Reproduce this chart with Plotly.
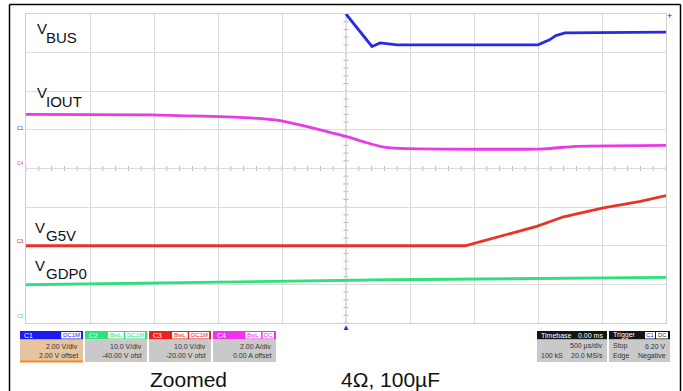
import plotly.graph_objects as go
import numpy as np

# ---- data (time in ms, amplitude in screen divisions) ----
vbus_t = [0.0, 0.203, 0.266, 0.40, 1.0, 1.50, 1.59, 1.64, 1.711, 2.0, 2.5]
vbus_y = [4.0, 3.16, 3.25, 3.20, 3.20, 3.20, 3.33, 3.44, 3.51, 3.52, 3.53]

viout_t = [-2.5, -1.53, -0.75, -0.516, -0.36, -0.20, 0.0, 0.148, 0.266, 0.42, 0.58, 1.55, 1.79, 2.5]
viout_y = [1.40, 1.39, 1.31, 1.24, 1.13, 1.00, 0.83, 0.68, 0.575, 0.52, 0.51, 0.51, 0.575, 0.60]

vg5v_t = [-2.5, 0.93, 1.49, 1.70, 2.01, 2.30, 2.5]
vg5v_y = [-2.00, -2.00, -1.50, -1.25, -1.02, -0.85, -0.70]

vgdp0_t = [-2.5, -0.828, 0.344, 2.5]
vgdp0_y = [-3.01, -2.94, -2.88, -2.82]

W, H = 683, 391
L, R, T, B = 26, 17, 14, 68
PW, PH = W - L - R, H - T - B


def PX(x):
    return (x - L) / PW


def PY(y):
    return (H - B - y) / PH


FONT = "Liberation Sans, Arial, sans-serif"

fig = go.Figure()
traces = [
    (vgdp0_t, vgdp0_y, "#2fe07c", "linear"),
    (vg5v_t, vg5v_y, "#ea3326", "linear"),
    (viout_t, viout_y, "#e63be6", "spline"),
    (vbus_t, vbus_y, "#2a2ae6", "linear"),
]
for t, y, c, sh in traces:
    line = dict(color=c, width=2.8, shape=sh)
    if sh == "spline":
        line["smoothing"] = 0.5
    fig.add_trace(go.Scatter(x=t, y=y, mode="lines", line=line, hoverinfo="skip", showlegend=False))

shapes = []
annotations = []

# center-line tick marks
for xv in np.arange(-2.5, 2.5001, 0.1):
    shapes.append(dict(type="line", xref="x", yref="y", x0=xv, x1=xv, y0=-0.06, y1=0.06,
                       line=dict(color="#b0b0b0", width=1), layer="below"))
for yv in np.arange(-4, 4.001, 0.2):
    shapes.append(dict(type="line", xref="x", yref="y", x0=-0.02, x1=0.02, y0=yv, y1=yv,
                       line=dict(color="#b0b0b0", width=1), layer="below"))
shapes.append(dict(type="line", xref="x", yref="y", x0=-2.5, x1=2.5, y0=0, y1=0,
                   line=dict(color="#c4c4c4", width=1), layer="below"))
shapes.append(dict(type="line", xref="x", yref="y", x0=0, x1=0, y0=-4, y1=4,
                   line=dict(color="#c4c4c4", width=1), layer="below"))

# outer black frame
shapes.append(dict(type="line", xref="paper", yref="paper", x0=PX(9.5), x1=PX(9.5), y0=PY(4.5), y1=PY(395),
                   line=dict(color="black", width=1.5)))
shapes.append(dict(type="line", xref="paper", yref="paper", x0=PX(680.5), x1=PX(680.5), y0=PY(4.5), y1=PY(395),
                   line=dict(color="black", width=1.5)))
shapes.append(dict(type="line", xref="paper", yref="paper", x0=PX(9.5), x1=PX(680.5), y0=PY(4.5), y1=PY(4.5),
                   line=dict(color="black", width=1.5)))


def rect(x0, y0, x1, y1, fill, line_color=None, lw=0):
    shapes.append(dict(type="rect", xref="paper", yref="paper", x0=PX(x0), x1=PX(x1), y0=PY(y1), y1=PY(y0),
                       fillcolor=fill, line=dict(color=line_color or fill, width=lw)))


def text(x, y, s, size=7, color="#222", anchor="left", family=FONT):
    annotations.append(dict(xref="paper", yref="paper", x=PX(x), y=PY(y), text=s, showarrow=False,
                            xanchor=anchor, yanchor="middle", font=dict(size=size, color=color, family=family)))


# trace labels
labels = [("V", "BUS", 36, 28.5, 45, 37.5),
          ("V", "IOUT", 36, 92, 45, 101),
          ("V", "G5V", 34, 227, 45, 235.5),
          ("V", "GDP0", 34, 265, 45, 273.5)]
for v, sub, vx, vy, sx, sy in labels:
    text(vx - 1, vy, v, size=15, color="#111")
    text(sx - 1, sy, sub, size=15, color="#111")

# channel boxes
channels = [
    ("C1", 20, 83, "#1c1cf0", "#e6c49f", ["DC1M"], "2.00 V/div", "2.00 V offset"),
    ("C2", 85, 147, "#2be37c", "#c9c9c9", ["BwL", "DC1M"], "10.0 V/div", "-40.00 V ofst"),
    ("C3", 149, 211, "#e8231c", "#c9c9c9", ["BwL", "DC1M"], "10.0 V/div", "-20.00 V ofst"),
    ("C4", 213, 276, "#ee32ee", "#c9c9c9", ["BwL", "DC"], "2.00 A/div", "0.00 A offset"),
]
for name, x0, x1, hc, bc, tags, l1, l2 in channels:
    rect(x0, 331, x1, 339.5, hc)
    rect(x0, 339.5, x1, 362, bc)
    text(x0 + 2, 335.3, name, size=7, color="white")
    xr = x1 - 2
    for tag in reversed(tags):
        wtag = 4.2 * len(tag) + 3
        rect(xr - wtag, 332, xr, 338.5, "white")
        text(xr - wtag / 2, 335.3, tag, size=6, color=hc, anchor="center")
        xr -= wtag + 1.5
    text(x1 - 3, 346, l1, size=7, color="#333", anchor="right")
    text(x1 - 3, 355.5, l2, size=7, color="#333", anchor="right")
    if name == "C1":
        shapes.append(dict(type="line", xref="paper", yref="paper", x0=PX(x0), x1=PX(x1), y0=PY(361.5),
                           y1=PY(361.5), line=dict(color="#f08a24", width=2)))

# timebase / trigger boxes
rect(537, 331, 607, 339.5, "#151515")
rect(537, 339.5, 607, 362, "#c9c9c9")
text(539, 335.3, "Timebase", size=7, color="white")
text(605, 335.3, "0.00 ms", size=7, color="white", anchor="right")
text(605, 346, "500 µs/div", size=7, color="#333", anchor="right")
text(539, 355.5, "100 kS", size=7, color="#333")
text(605, 355.5, "20.0 MS/s", size=7, color="#333", anchor="right")

rect(609, 331, 670, 339.5, "#151515")
rect(609, 339.5, 670, 362, "#c9c9c9")
text(611, 335.3, "Trigger", size=7, color="white")
rect(645, 332, 655, 338.5, "white")
text(650, 335.3, "C1", size=6, color="#1c1cf0", anchor="center")
rect(656, 332, 668, 338.5, "white")
text(662, 335.3, "DC", size=6, color="#333", anchor="center")
text(611, 346, "Stop", size=7, color="#333")
text(668, 346, "6.20 V", size=7, color="#333", anchor="right")
text(611, 355.5, "Edge", size=7, color="#333")
text(668, 355.5, "Negative", size=7, color="#333", anchor="right")

# captions
text(148, 379.5, "Zoomed", size=21, color="#111")
text(339, 379.5, "4Ω, 100µF", size=21, color="#111")

# tiny channel markers at left edge
for s, y, c in [("C1", 128, "#1c1cf0"), ("C4", 163, "#ee32ee"), ("C3", 241, "#e8231c"), ("C2", 316, "#2be37c")]:
    text(20.5, y, s, size=5, color=c, anchor="center")

# trigger marker and top-right marker
annotations.append(dict(xref="x", yref="paper", x=0, y=PY(327), text="▲", showarrow=False,
                        font=dict(size=8, color="#2a2ae6"), xanchor="center", yanchor="middle"))
annotations.append(dict(xref="paper", yref="paper", x=PX(669), y=PY(16), text="+", showarrow=False,
                        font=dict(size=9, color="#333"), xanchor="center", yanchor="middle"))

fig.update_layout(
    width=W, height=H,
    margin=dict(l=L, r=R, t=T, b=B),
    paper_bgcolor="white", plot_bgcolor="white",
    shapes=shapes, annotations=annotations,
    xaxis=dict(range=[-2.5, 2.5], dtick=0.5, tick0=-2.5, showticklabels=False, ticks="",
               showgrid=True, gridcolor="#dcdcdc", gridwidth=1, zeroline=False,
               showline=True, linecolor="#d0d0d0", mirror=True, fixedrange=True),
    yaxis=dict(range=[-4, 4], dtick=1, showticklabels=False, ticks="",
               showgrid=True, gridcolor="#dcdcdc", gridwidth=1, zeroline=False,
               showline=True, linecolor="#d0d0d0", mirror=True, fixedrange=True),
    font=dict(family=FONT),
)

fig.write_html("out.html", config={"displayModeBar": False},
               post_script="document.body.style.margin='0';document.body.style.overflow='hidden';")
